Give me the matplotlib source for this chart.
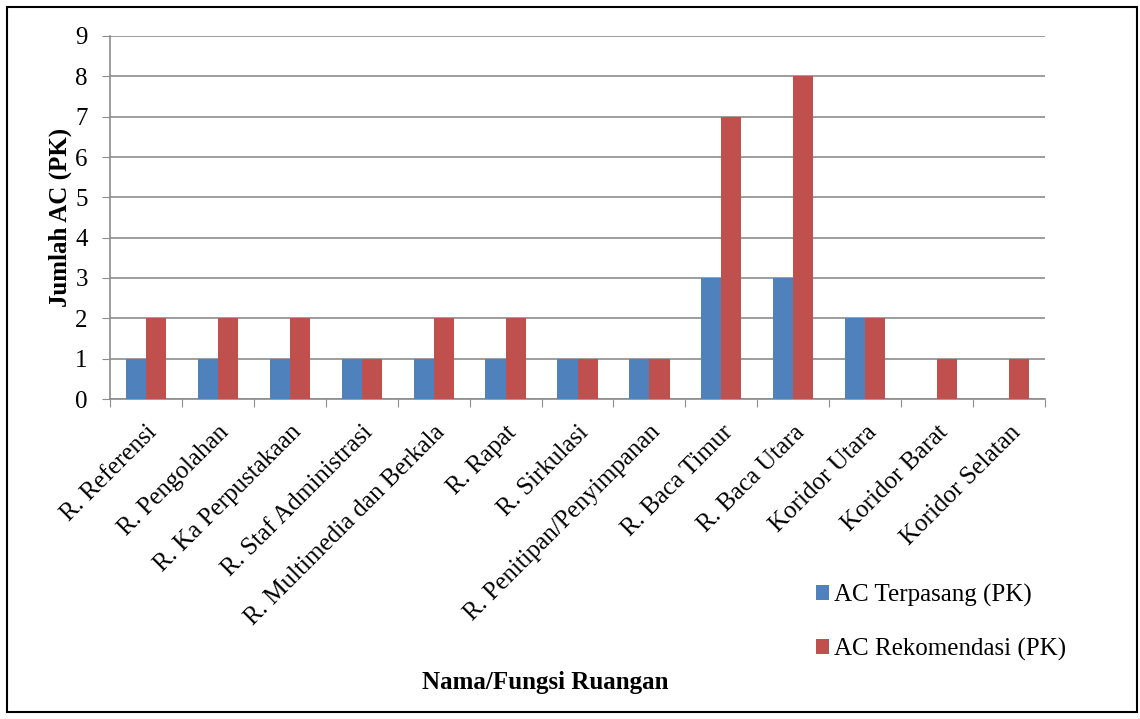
import matplotlib.pyplot as plt
import numpy as np
from matplotlib.patches import Rectangle

plt.rcParams['font.family'] = ['Liberation Serif', 'DejaVu Serif']

ruangan = ["R. Referensi", "R. Pengolahan", "R. Ka Perpustakaan", "R. Staf Administrasi",
           "R. Multimedia dan Berkala", "R. Rapat", "R. Sirkulasi", "R. Penitipan/Penyimpanan",
           "R. Baca Timur", "R. Baca Utara", "Koridor Utara", "Koridor Barat", "Koridor Selatan"]
terpasang = [1, 1, 1, 1, 1, 1, 1, 1, 3, 3, 2, 0, 0]
rekomendasi = [2, 2, 2, 1, 2, 2, 1, 1, 7, 8, 2, 1, 1]

biru = "#4f81bd"
merah = "#c0504d"
abu = "#8c8c8c"

fig = plt.figure(figsize=(11.4, 7.19), dpi=100)
ax = fig.add_axes([110/1140, 1-399/719, (1045-110)/1140, (399-36)/719])

x = np.arange(len(ruangan))
w = 0.28
ax.bar(x - w/2, terpasang, w, color=biru, label="AC Terpasang (PK)", zorder=3)
ax.bar(x + w/2, rekomendasi, w, color=merah, label="AC Rekomendasi (PK)", zorder=3)

ax.set_xlim(-0.5, len(ruangan) - 0.5)
ax.set_ylim(0, 9)
ax.set_yticks(range(10))
ax.yaxis.grid(True, color=abu, linewidth=1.2, zorder=0)
ax.tick_params(axis='y', labelsize=18, length=6, color=abu, pad=10)

# garis tick di antara kategori, label di tengah kategori
ax.set_xticks(np.arange(-0.5, len(ruangan)))
ax.set_xticklabels([])
ax.set_xticks(x, minor=True)
ax.set_xticklabels(ruangan, minor=True, rotation=45, ha='right', rotation_mode='anchor', fontsize=18)
ax.tick_params(axis='x', which='major', length=6, color=abu)
ax.tick_params(axis='x', which='minor', length=0, pad=16)

for s in ['top', 'right']:
    ax.spines[s].set_visible(False)
for s in ['left', 'bottom']:
    ax.spines[s].set_color(abu)
    ax.spines[s].set_linewidth(1.2)

ax.set_ylabel("Jumlah AC (PK)", fontsize=18, fontweight='bold', labelpad=2)
fig.text(545/1140, 1-682/719, "Nama/Fungsi Ruangan", fontsize=18, fontweight='bold',
         ha='center', va='center')

fig.legend(loc='upper left', bbox_to_anchor=(794/1140, 1-561/719), frameon=False,
           fontsize=18, handlelength=0.52, handleheight=0.52, handletextpad=0.2,
           labelspacing=1.25)

fig.patches.append(Rectangle((7/1140, 7/719), 1130/1140, 705/719, transform=fig.transFigure,
                             fill=False, edgecolor="black", linewidth=1.5))

fig.savefig("out.png", dpi=100)
